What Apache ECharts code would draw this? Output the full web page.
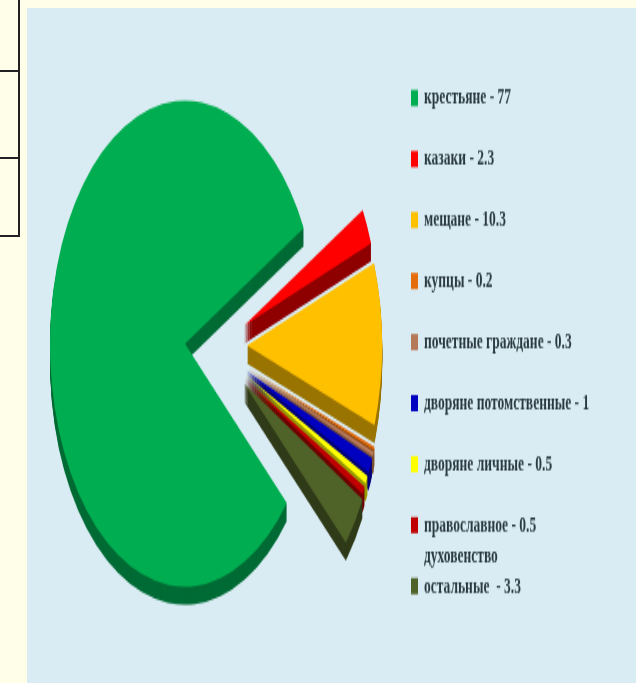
<!DOCTYPE html>
<html>
<head>
<meta charset="utf-8">
<style>
  html, body { margin: 0; width: 636px; height: 683px; overflow: hidden; background: #fffee8; }
  .cell { position: absolute; left: 0; width: 18px; border-right: 2px solid #222; border-bottom: 2px solid #222; box-sizing: content-box; }
  #main { position: absolute; left: 27px; top: 8px; width: 609px; height: 375px; transform: scaleY(1.8); transform-origin: 0 0; }
</style>
<script src="https://cdn.jsdelivr.net/npm/echarts@6/dist/echarts.min.js"></script>
</head>
<body>
<div class="cell" style="top:0;height:70px"></div>
<div class="cell" style="top:72px;height:85px"></div>
<div class="cell" style="top:159px;height:76px"></div>
<div id="main"></div>
<script>
// сословия, перепись 1897
var categories = ['крестьяне', 'казаки', 'мещане', 'купцы', 'почетные граждане', 'дворяне потомственные', 'дворяне личные', 'православное', 'остальные ']
var values = [77, 2.3, 10.3, 0.2, 0.3, 1, 0.5, 0.5, 3.3]

var topColors = ['#00ad50', '#ff0000', '#ffc000', '#e46c0a', '#b5795a', '#0000c0', '#ffff00', '#c00000', '#4f6228']
var wallColors = ['#006b35', '#8f0000', '#9a7400', '#8a4206', '#7a5038', '#000078', '#999900', '#700000', '#2f3a18']
// сдвиг каждого сектора от центра (до растяжения по вертикали)
var shiftX = [0, 59, 62, 62, 62, 61, 60, 59, 59]
var shiftY = [0, -10, 1, 13, 14, 15, 17, 19, 22]

var centerX = 158
var centerY = 186.5
var radius = 135
var wallHeight = 10

var labels = categories.map(function (c, i) { return c + ' - ' + values[i] })

function sliceSeries (index, dy, color) {
  return {
    type: 'pie',
    silent: true,
    animation: false,
    radius: radius,
    center: [centerX + shiftX[index], centerY + shiftY[index] + dy],
    startAngle: 319,
    label: { show: false },
    labelLine: { show: false },
    data: labels.map(function (name, i) {
      return {
        name: name,
        value: values[i],
        itemStyle: { color: i === index ? color : 'rgba(0,0,0,0)' }
      }
    })
  }
}

var series = []
labels.forEach(function (name, i) {
  for (var d = wallHeight; d > 0; d--) {
    series.push(sliceSeries(i, d, wallColors[i]))
  }
})
labels.forEach(function (name, i) {
  series.push(sliceSeries(i, 0, topColors[i]))
})

var chart = echarts.init(document.getElementById('main'), null, { renderer: 'canvas', devicePixelRatio: 1 })
chart.setOption({
  backgroundColor: '#d9ecf3',
  legend: {
    orient: 'vertical',
    left: 384,
    top: 43,
    itemWidth: 7,
    itemHeight: 9,
    itemGap: 19.9,
    selectedMode: false,
    padding: 0,
    textStyle: {
      fontFamily: 'Liberation Serif',
      fontWeight: 'bold',
      fontSize: 13.5,
      color: '#2b3a40',
      padding: [0, 0, 0, 1]
    },
    data: labels.map(function (name, i) {
      return { name: name, icon: 'rect', itemStyle: { color: topColors[i] } }
    })
  },
  graphic: [{
    type: 'text',
    left: 397,
    top: 298,
    style: {
      text: 'духовенство',
      fontFamily: 'Liberation Serif',
      fontWeight: 'bold',
      fontSize: 13.5,
      fill: '#2b3a40'
    }
  }],
  series: series
})
</script>
</body>
</html>
